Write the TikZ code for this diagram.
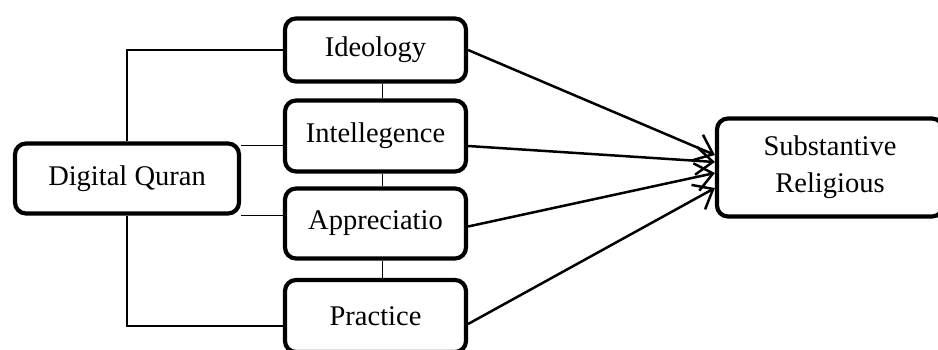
\documentclass[tikz,border=0pt]{standalone}
\usepackage{fontspec}
\setmainfont{Liberation Serif}
\usetikzlibrary{arrows.meta}
\begin{document}
\begin{tikzpicture}[x=1pt,y=1pt]
\tikzset{bloc/.style={draw, line width=4.2pt, rounded corners=11pt, minimum width=181pt, inner sep=0pt, align=center, font=\fontsize{28.5}{37}\selectfont}}
\tikzset{lien/.style={line width=1.5pt}}
\tikzset{fleche/.style={line width=2.5pt, -{Straight Barb[length=17pt,width=28pt]}}}
\useasboundingbox (0,0) rectangle (938,349);
\node[bloc, minimum width=224pt, minimum height=70pt] (DQ) at (127,170.5) {Digital Quran};
\node[bloc, minimum height=63pt] (V1) at (375.5,299) {Ideology};
\node[bloc, minimum height=71pt] (V2) at (375.5,213) {Intellegence};
\node[bloc, minimum height=70pt] (V3) at (375.5,125.5) {Appreciatio};
\node[bloc, minimum height=72pt] (V4) at (375.5,33) {Practice};
\node[bloc, minimum width=226pt, minimum height=98pt] (SR) at (830,181.5) {Substantive\\Religious};
% liens depuis Digital Quran
\draw[lien] (DQ.north) |- (V1.west);
\draw[lien] ([yshift=-4pt]DQ.north east) coordinate (A) -- (A -| V2.west);
\draw[lien] (DQ.south east) coordinate (B) -- (B -| V3.west);
\draw[lien] (DQ.south) |- ([yshift=-10pt]V4.west);
% liens verticaux
\draw[lien] ([xshift=7pt]V1.south) -- ([xshift=7pt]V2.north);
\draw[lien] ([xshift=7pt]V2.south) -- ([xshift=7pt]V3.north);
\draw[lien] ([xshift=7pt]V3.south) -- ([xshift=7pt]V4.north);
% fleches vers Substantive Religious
\draw[fleche] (V1.east) -- ([yshift=12.5pt]SR.west);
\draw[fleche] ([yshift=-10pt]V2.east) -- ([yshift=5.5pt]SR.west);
\draw[fleche] ([yshift=-3pt]V3.east) -- ([yshift=-5.5pt]SR.west);
\draw[fleche] ([yshift=-8pt]V4.east) -- ([yshift=-20.5pt]SR.west);
\end{tikzpicture}
\end{document}
